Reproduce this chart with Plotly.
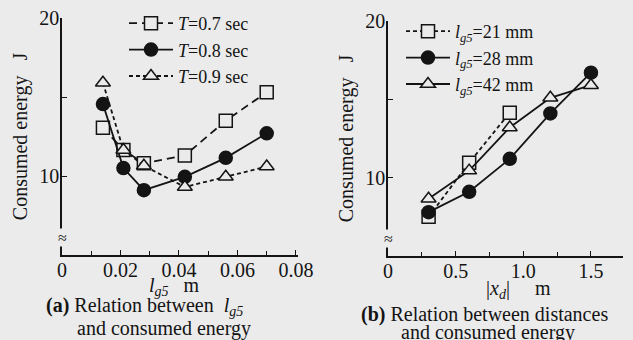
import plotly.graph_objects as go

# ---- data (a) ----
lg5_m = [0.014, 0.021, 0.028, 0.042, 0.056, 0.070]
e_T07 = [13.05, 11.65, 10.8, 11.3, 13.5, 15.3]
e_T08 = [14.55, 10.5, 9.1, 9.95, 11.15, 12.7]
e_T09 = [15.9, 11.65, 10.65, 9.3, 9.95, 10.6]

# ---- data (b) ----
xd_21 = [0.3, 0.6, 0.9]
e_21 = [7.5, 10.95, 14.15]
xd_28 = [0.3, 0.6, 0.9, 1.2, 1.5]
e_28 = [7.8, 9.1, 11.2, 14.1, 16.7]
xd_42 = [0.3, 0.6, 0.9, 1.2, 1.5]
e_42 = [8.65, 10.45, 13.2, 15.1, 15.9]

xa_tickvals = [0, 0.02, 0.04, 0.06, 0.08]
xa_ticktext = ["0", "0.02", "0.04", "0.06", "0.08"]
xb_tickvals = [0, 0.5, 1.0, 1.5]
xb_ticktext = ["0", "0.5", "1.0", "1.5"]
y_tickvals = [10, 20]
y_ticktext = ["10", "20"]

BG = "#ebebeb"
INK = "#141414"
FONT = "Liberation Serif"
W, H = 633, 340

fig = go.Figure()

def add(x, y, name, symbol, dash, xa, ya, legend):
    fig.add_trace(go.Scatter(
        x=x, y=y, name=name, mode="lines+markers",
        line=dict(color=INK, width=1.8, dash=dash),
        marker=dict(symbol=symbol, size=13, color=INK if symbol == "circle" else BG,
                    line=dict(color=INK, width=1.5)),
        xaxis=xa, yaxis=ya, legend=legend))

add(lg5_m, e_T07, "<i>T</i>=0.7 sec", "square", "8px,5px", "x", "y", "legend")
add(lg5_m, e_T08, "<i>T</i>=0.8 sec", "circle", "solid", "x", "y", "legend")
add(lg5_m, e_T09, "<i>T</i>=0.9 sec", "triangle-up", "4px,3px", "x", "y", "legend")

add(xd_21, e_21, "<i>l</i><sub><i>g5</i></sub>=21 mm", "square", "4px,3px", "x2", "y2", "legend2")
add(xd_28, e_28, "<i>l</i><sub><i>g5</i></sub>=28 mm", "circle", "solid", "x2", "y2", "legend2")
add(xd_42, e_42, "<i>l</i><sub><i>g5</i></sub>=42 mm", "triangle-up", "solid", "x2", "y2", "legend2")

axis_common = dict(showline=True, linecolor=INK, linewidth=1.6, showgrid=False,
                   zeroline=False, ticks="inside", tickcolor=INK, ticklen=5,
                   tickwidth=1.2, automargin=False,
                   tickfont=dict(family=FONT, size=20, color=INK))

ydom_a = [1 - 255 / H, 1 - 18 / H]
ydom_b = [1 - 256 / H, 1 - 21 / H]

fig.update_layout(
    width=W, height=H,
    margin=dict(l=0, r=0, t=0, b=0, pad=0),
    paper_bgcolor=BG, plot_bgcolor=BG,
    font=dict(family=FONT, color=INK, size=20),
    xaxis=dict(axis_common, domain=[62 / W, 298 / W], range=[0, 0.0807],
               tickvals=xa_tickvals, ticktext=xa_ticktext, ticklabelstandoff=-4,
               minor=dict(dtick=0.01, ticks="inside", ticklen=4, tickcolor=INK),
               anchor="y"),
    yaxis=dict(axis_common, domain=ydom_a, range=[5, 20],
               tickvals=y_tickvals, ticktext=y_ticktext, ticklabelstandoff=-3,
               minor=dict(tickvals=[15], ticks="inside", ticklen=5, tickcolor=INK),
               anchor="x",
               title=dict(text="Consumed energy   J", standoff=6,
                          font=dict(size=20))),
    xaxis2=dict(axis_common, domain=[388 / W, 623 / W], range=[0, 1.737],
                tickvals=xb_tickvals, ticktext=xb_ticktext, ticklabelstandoff=-4,
                minor=dict(dtick=0.25, ticks="inside", ticklen=4, tickcolor=INK),
                anchor="y2"),
    yaxis2=dict(axis_common, domain=ydom_b, range=[5, 20],
                tickvals=y_tickvals, ticktext=y_ticktext, ticklabelstandoff=-3,
                minor=dict(tickvals=[15], ticks="inside", ticklen=5, tickcolor=INK),
                anchor="x2",
                title=dict(text="Consumed energy   J", standoff=6,
                           font=dict(size=20))),
    legend=dict(x=124 / W, y=1 - 5 / H, xanchor="left", yanchor="top",
                bgcolor="rgba(0,0,0,0)", font=dict(size=18, family=FONT, color=INK),
                tracegroupgap=0, itemwidth=44),
    legend2=dict(x=401 / W, y=1 - 13 / H, xanchor="left", yanchor="top",
                 bgcolor="rgba(0,0,0,0)", font=dict(size=18, family=FONT, color=INK),
                 tracegroupgap=0, itemwidth=44),
    showlegend=True,
)

# axis titles (x) placed below the tick labels
x_titles = [
    ("<i>l</i><sub><i>g5</i></sub>   m", 174, 286),
    ("|<i>x<sub>d</sub></i>|     m", 518, 289),
]
for txt, px, py in x_titles:
    fig.add_annotation(x=px / W, y=1 - py / H, xref="paper", yref="paper",
                       text=txt, showarrow=False, xanchor="center", yanchor="middle",
                       font=dict(size=20, family=FONT, color=INK))

# axis-break marks
for xr, yr in (("x", "y"), ("x2", "y2")):
    fig.add_annotation(x=0, y=6.1, xref=xr, yref=yr, text="≈", showarrow=False,
                       font=dict(size=16, family=FONT, color=INK), bgcolor=BG,
                       borderpad=0)

# captions
captions = [
    ("<b>(a)</b> Relation between  <i>l</i><sub><i>g5</i></sub>", 144, 306),
    ("and consumed energy", 164, 328),
    ("<b>(b)</b> Relation between distances", 484, 314),
    ("and consumed energy", 488, 332),
]
for txt, px, py in captions:
    fig.add_annotation(x=px / W, y=1 - py / H, xref="paper", yref="paper",
                       text=txt, showarrow=False, xanchor="center", yanchor="middle",
                       font=dict(size=20, family=FONT, color=INK))

fig.write_html("out.html", config={"displayModeBar": False},
               post_script="document.body.style.margin='0';")
